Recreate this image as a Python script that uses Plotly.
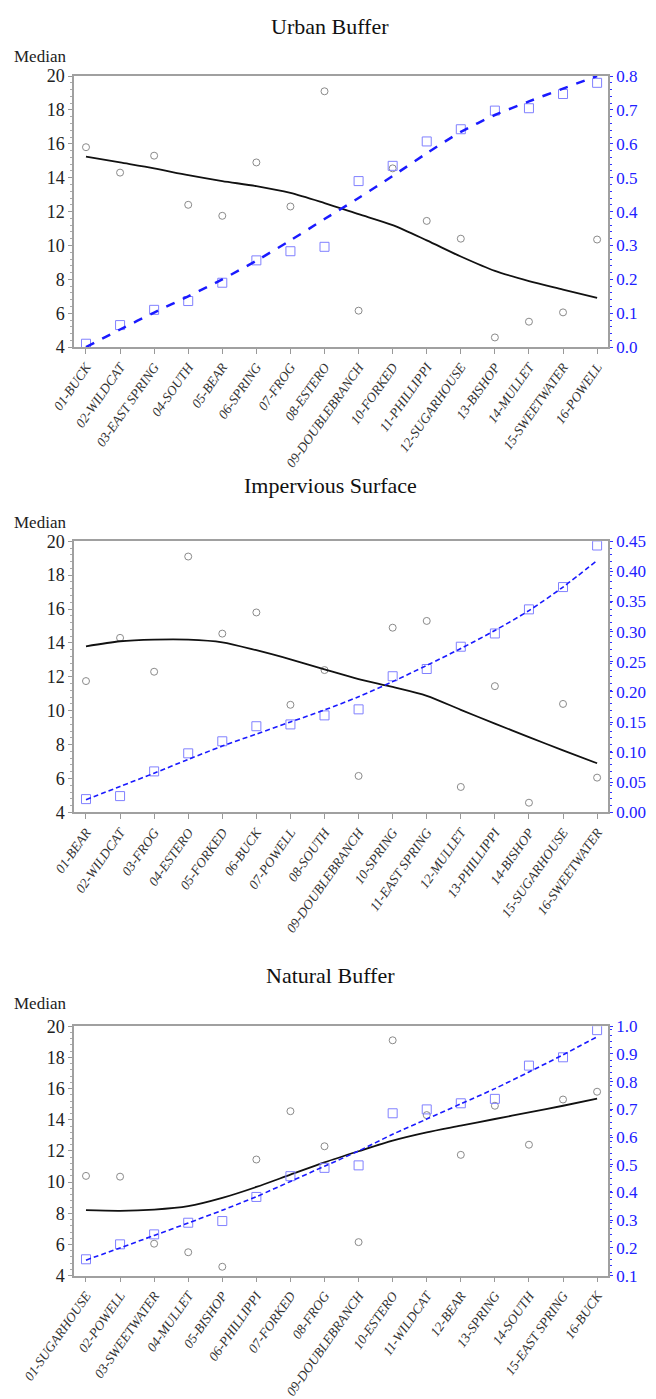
import plotly.graph_objects as go

# ---------------- data ----------------
titles = ["Urban Buffer", "Impervious Surface", "Natural Buffer"]

cats_urban = ["01-BUCK", "02-WILDCAT", "03-EAST SPRING", "04-SOUTH", "05-BEAR", "06-SPRING",
              "07-FROG", "08-ESTERO", "09-DOUBLEBRANCH", "10-FORKED", "11-PHILLIPPI",
              "12-SUGARHOUSE", "13-BISHOP", "14-MULLET", "15-SWEETWATER", "16-POWELL"]
median_urban = [15.8, 14.3, 15.3, 12.4, 11.75, 14.9, 12.3, 19.1, 6.15, 14.55, 11.45, 10.4, 4.57, 5.5, 6.05, 10.35]
fit_urban = [15.25, 14.9, 14.55, 14.15, 13.8, 13.5, 13.1, 12.5, 11.85, 11.2, 10.3, 9.35, 8.5, 7.9, 7.4, 6.9]
prop_urban = [0.01, 0.065, 0.11, 0.136, 0.19, 0.256, 0.283, 0.296, 0.49, 0.535, 0.607, 0.643, 0.698, 0.705, 0.747, 0.78]
propfit_urban = [0.0, 0.052, 0.102, 0.15, 0.2, 0.255, 0.315, 0.378, 0.44, 0.505, 0.572, 0.635, 0.685, 0.725, 0.763, 0.80]

cats_imperv = ["01-BEAR", "02-WILDCAT", "03-FROG", "04-ESTERO", "05-FORKED", "06-BUCK", "07-POWELL",
               "08-SOUTH", "09-DOUBLEBRANCH", "10-SPRING", "11-EAST SPRING", "12-MULLET",
               "13-PHILLIPPI", "14-BISHOP", "15-SUGARHOUSE", "16-SWEETWATER"]
median_imperv = [11.75, 14.3, 12.3, 19.1, 14.55, 15.8, 10.35, 12.4, 6.15, 14.9, 15.3, 5.5, 11.45, 4.57, 10.4, 6.05]
fit_imperv = [13.8, 14.1, 14.2, 14.2, 14.04, 13.57, 13.03, 12.44, 11.87, 11.4, 10.88, 10.05, 9.24, 8.44, 7.66, 6.9]
prop_imperv = [0.022, 0.027, 0.068, 0.098, 0.118, 0.143, 0.146, 0.161, 0.171, 0.226, 0.238, 0.275, 0.297, 0.337, 0.374, 0.443]
propfit_imperv = [0.021, 0.043, 0.065, 0.088, 0.11, 0.13, 0.15, 0.17, 0.192, 0.217, 0.244, 0.272, 0.302, 0.335, 0.374, 0.418]

cats_natural = ["01-SUGARHOUSE", "02-POWELL", "03-SWEETWATER", "04-MULLET", "05-BISHOP", "06-PHILLIPPI",
                "07-FORKED", "08-FROG", "09-DOUBLEBRANCH", "10-ESTERO", "11-WILDCAT", "12-BEAR",
                "13-SPRING", "14-SOUTH", "15-EAST SPRING", "16-BUCK"]
median_natural = [10.4, 10.35, 6.05, 5.5, 4.57, 11.45, 14.55, 12.3, 6.15, 19.1, 14.3, 11.75, 14.9, 12.4, 15.3, 15.8]
fit_natural = [8.2, 8.16, 8.24, 8.46, 8.99, 9.69, 10.48, 11.27, 11.98, 12.66, 13.19, 13.62, 14.05, 14.47, 14.9, 15.35]
prop_natural = [0.159, 0.213, 0.249, 0.291, 0.297, 0.384, 0.459, 0.489, 0.498, 0.686, 0.70, 0.722, 0.738, 0.858, 0.888, 0.986]
propfit_natural = [0.156, 0.2, 0.245, 0.29, 0.336, 0.385, 0.44, 0.495, 0.55, 0.61, 0.665, 0.72, 0.775, 0.835, 0.897, 0.962]

left_ticks = [4, 6, 8, 10, 12, 14, 16, 18, 20]
right_ticks = [
    [0.0, 0.1, 0.2, 0.3, 0.4, 0.5, 0.6, 0.7, 0.8],
    [0.0, 0.05, 0.10, 0.15, 0.20, 0.25, 0.30, 0.35, 0.40, 0.45],
    [0.1, 0.2, 0.3, 0.4, 0.5, 0.6, 0.7, 0.8, 0.9, 1.0],
]
right_fmt = [".1f", ".2f", ".1f"]
right_ranges = [[0.0, 0.8], [0.0, 0.45], [0.1, 1.0]]

panels = [
    (cats_urban, median_urban, fit_urban, prop_urban, propfit_urban),
    (cats_imperv, median_imperv, fit_imperv, prop_imperv, propfit_imperv),
    (cats_natural, median_natural, fit_natural, prop_natural, propfit_natural),
]

# ---------------- layout geometry ----------------
W, H = 656, 1399
ML, MR = 74, 48
PW = W - ML - MR
boxes = [(67, 342), (539, 814), (1031, 1284)]
title_y = [17, 482, 980]
median_y = [47, 520, 1008]
dash_styles = [("dash", 2.5), ("5px,3px", 1.6), ("5px,3px", 1.6)]

SERIF = "Liberation Serif"
fig = go.Figure()
layout = dict(
    width=W, height=H,
    margin=dict(l=ML, r=MR, t=0, b=0),
    paper_bgcolor="white", plot_bgcolor="white",
    showlegend=False,
    font=dict(family=SERIF, color="#222"),
)
annotations = []

for i, (cats, med, fit, prop, pfit) in enumerate(panels):
    xs = list(range(1, len(cats) + 1))
    xa = "x" if i == 0 else f"x{i+1}"
    yl = f"y{2*i+1}" if i > 0 else "y"
    yr = f"y{2*i+2}"
    ylname = "yaxis" if i == 0 else f"yaxis{2*i+1}"
    yrname = f"yaxis{2*i+2}"
    xname = "xaxis" if i == 0 else f"xaxis{i+1}"
    top, bot = boxes[i]
    dom = [1 - bot / H, 1 - top / H]

    fig.add_trace(go.Scatter(x=xs, y=med, mode="markers", xaxis=xa, yaxis=yl,
                             marker=dict(symbol="circle-open", size=7, color="#8a8a8a",
                                         line=dict(width=1, color="#8a8a8a"))))
    fig.add_trace(go.Scatter(x=xs, y=fit, mode="lines", xaxis=xa, yaxis=yl,
                             line=dict(color="#111", width=1.8, shape="spline", smoothing=0.8)))
    fig.add_trace(go.Scatter(x=xs, y=prop, mode="markers", xaxis=xa, yaxis=yr,
                             marker=dict(symbol="square-open", size=9, color="#8080ff",
                                         line=dict(width=1, color="#8080ff"))))
    d, w = dash_styles[i]
    fig.add_trace(go.Scatter(x=xs, y=pfit, mode="lines", xaxis=xa, yaxis=yr,
                             line=dict(color="#1a1aff", width=w, dash=d, shape="spline", smoothing=0.8)))

    layout[xname] = dict(
        domain=[0, 1], anchor=yl, range=[0.648, 16.32],
        tickmode="array", tickvals=xs, ticktext=cats, tickangle=-55,
        ticks="outside", ticklen=5, tickcolor="#999",
        showline=True, linecolor="#a0a0a0", linewidth=1.5, mirror=True,
        showgrid=False, zeroline=False,
        tickfont=dict(family=SERIF, size=13.5, color="#333", style="italic"),
    )
    layout[ylname] = dict(
        domain=dom, anchor=xa, range=[4, 20],
        tickmode="array", tickvals=left_ticks,
        ticks="outside", ticklen=4, tickcolor="#999",
        minor=dict(ticks="outside", ticklen=2, dtick=0.4, tickcolor="#aaa", showgrid=False),
        showline=True, linecolor="#a0a0a0", linewidth=1.5,
        showgrid=False, zeroline=False,
        tickfont=dict(family=SERIF, size=18, color="#222"),
    )
    rng = right_ranges[i]
    layout[yrname] = dict(
        domain=dom, anchor=xa, overlaying=yl, side="right", range=rng,
        tickmode="array", tickvals=right_ticks[i],
        ticktext=[format(v, right_fmt[i]) for v in right_ticks[i]],
        ticks="outside", ticklen=3, tickcolor="#3030ff",
        minor=dict(ticks="outside", ticklen=2, dtick=(rng[1] - rng[0]) / 40, tickcolor="#3030ff", showgrid=False),
        showline=True, linecolor="#a0a0a0", linewidth=1.5,
        showgrid=False, zeroline=False,
        tickfont=dict(family=SERIF, size=17, color="#2020ff"),
    )
    annotations.append(dict(text=titles[i], xref="paper", yref="paper",
                            x=(330 - ML) / PW, y=1 - title_y[i] / H,
                            xanchor="center", yanchor="middle", showarrow=False,
                            font=dict(family=SERIF, size=22, color="#111")))
    annotations.append(dict(text="Median", xref="paper", yref="paper",
                            x=(12 - ML) / PW, y=1 - median_y[i] / H,
                            xanchor="left", yanchor="middle", showarrow=False,
                            font=dict(family=SERIF, size=17, color="#222")))

layout["annotations"] = annotations
fig.update_layout(**layout)
fig.write_html("out.html",
               config={"displayModeBar": False},
               post_script="document.body.style.margin='0px';document.documentElement.style.overflow='hidden';")
